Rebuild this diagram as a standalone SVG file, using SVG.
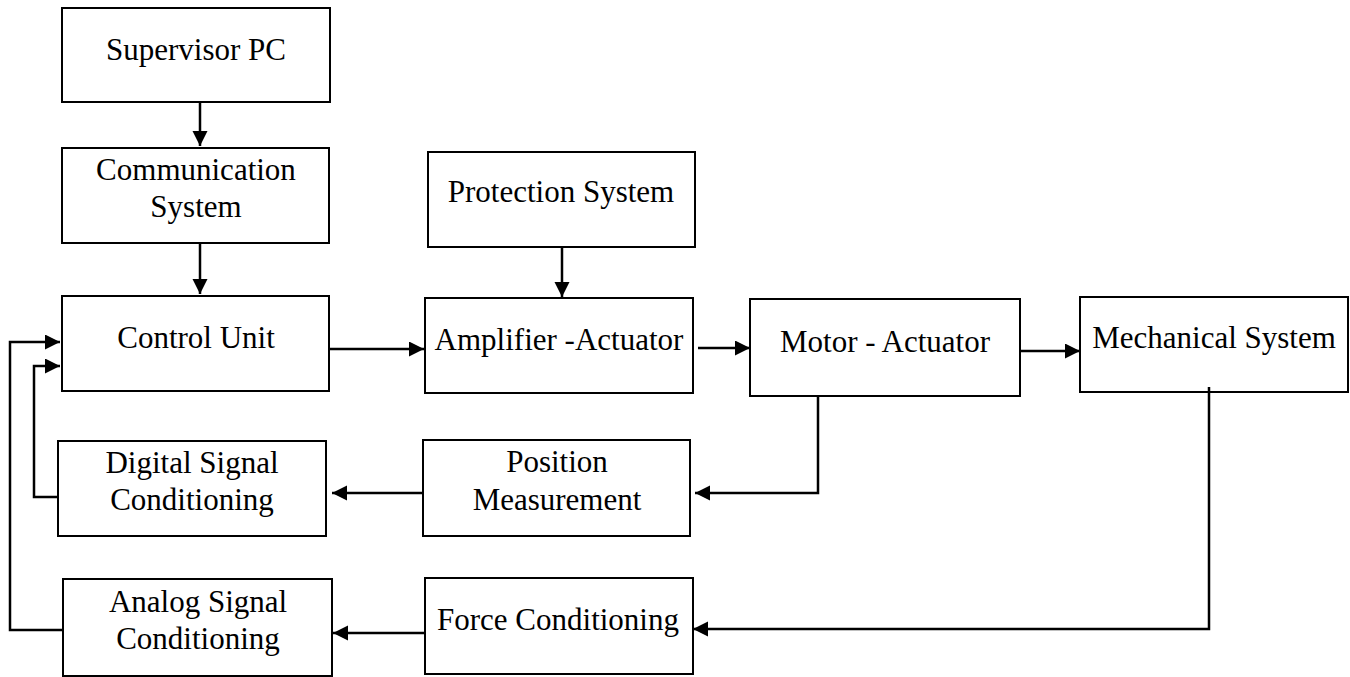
<svg xmlns="http://www.w3.org/2000/svg" width="1350" height="677" viewBox="0 0 1350 677">
  <style>
    .box { fill: #ffffff; stroke: #000000; stroke-width: 2; }
    .lbl { font-family: "Liberation Serif", "Times New Roman", serif; font-size: 31px; fill: #000000; text-anchor: middle; }
    .wire { fill: none; stroke: #000000; stroke-width: 2.5; stroke-linejoin: miter; }
    .arrow { marker-end: url(#head); }
  </style>
  <defs>
    <marker id="head" markerUnits="userSpaceOnUse" markerWidth="16" markerHeight="16" refX="15" refY="7.5" orient="auto">
      <path d="M0,0 L15,7.5 L0,15 z" fill="#000000"/>
    </marker>
  </defs>
  <rect width="1350" height="677" fill="#ffffff"/>

  <!-- blocks -->
  <g id="supervisor-pc">
    <rect class="box" x="62" y="8" width="268" height="94"/>
    <text class="lbl" x="196" y="60">Supervisor PC</text>
  </g>
  <g id="communication-system">
    <rect class="box" x="62" y="148" width="267" height="95"/>
    <text class="lbl" x="196" y="180">Communication</text>
    <text class="lbl" x="196" y="217">System</text>
  </g>
  <g id="control-unit">
    <rect class="box" x="62" y="296" width="267" height="95"/>
    <text class="lbl" x="196" y="348">Control Unit</text>
  </g>
  <g id="protection-system">
    <rect class="box" x="428" y="152" width="267" height="95"/>
    <text class="lbl" x="561" y="202">Protection System</text>
  </g>
  <g id="amplifier-actuator">
    <rect class="box" x="425" y="298" width="268" height="95"/>
    <text class="lbl" x="559" y="350">Amplifier -Actuator</text>
  </g>
  <g id="motor-actuator">
    <rect class="box" x="750" y="299" width="270" height="97"/>
    <text class="lbl" x="885" y="352">Motor - Actuator</text>
  </g>
  <g id="mechanical-system">
    <rect class="box" x="1080" y="297" width="268" height="95"/>
    <text class="lbl" x="1214" y="348">Mechanical System</text>
  </g>
  <g id="digital-signal-conditioning">
    <rect class="box" x="58" y="441" width="268" height="95"/>
    <text class="lbl" x="192" y="473">Digital Signal</text>
    <text class="lbl" x="192" y="510">Conditioning</text>
  </g>
  <g id="position-measurement">
    <rect class="box" x="423" y="440" width="267" height="96"/>
    <text class="lbl" x="557" y="472">Position</text>
    <text class="lbl" x="557" y="510">Measurement</text>
  </g>
  <g id="analog-signal-conditioning">
    <rect class="box" x="63" y="579" width="269" height="97"/>
    <text class="lbl" x="198" y="612">Analog Signal</text>
    <text class="lbl" x="198" y="649">Conditioning</text>
  </g>
  <g id="force-conditioning">
    <rect class="box" x="425" y="578" width="268" height="96"/>
    <text class="lbl" x="558" y="630">Force Conditioning</text>
  </g>

  <!-- signal flow -->
  <g id="connectors">
    <path class="wire arrow" d="M200,102 V146"/>
    <path class="wire arrow" d="M200,243 V294"/>
    <path class="wire arrow" d="M562,247 V297"/>
    <path class="wire arrow" d="M329,349 H424"/>
    <path class="wire arrow" d="M698,348 H750"/>
    <path class="wire arrow" d="M1020,351 H1080"/>
    <path class="wire arrow" d="M818,396 V493 H695"/>
    <path class="wire arrow" d="M423,493 H332"/>
    <path class="wire arrow" d="M1209,387 V629 H693"/>
    <path class="wire arrow" d="M425,633 H333"/>
    <path class="wire arrow" d="M58,497 H34 V366 H60"/>
    <path class="wire arrow" d="M63,630 H10 V342 H60"/>
  </g>
</svg>
